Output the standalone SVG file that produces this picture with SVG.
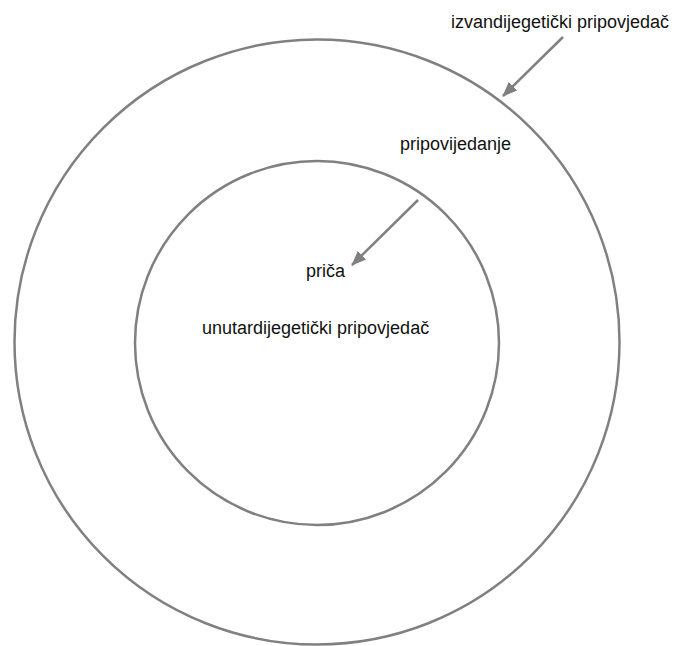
<svg xmlns="http://www.w3.org/2000/svg" width="676" height="646" viewBox="0 0 676 646">
<style>
.ring{fill:none;stroke:#808080;stroke-width:2.5}
.lbl{font-family:"Liberation Sans",Arial,sans-serif;font-size:18px;fill:#111111}
.conn{stroke:#808080;stroke-width:2.5;fill:none}
</style>
<defs>
<marker id="ah" markerUnits="userSpaceOnUse" markerWidth="16" markerHeight="14" refX="14" refY="6" orient="auto" viewBox="0 0 16 12">
<path d="M0,0 L15,6 L0,12 z" fill="#808080"/>
</marker>
</defs>
<rect width="676" height="646" fill="#ffffff"/>
<g id="outer">
<circle class="ring" cx="317" cy="342" r="302.5"/>
</g>
<g id="inner">
<circle class="ring" cx="317" cy="343" r="182"/>
</g>
<g id="labels">
<text class="lbl" x="451" y="28">izvandijegetički pripovjedač</text>
<text class="lbl" x="400" y="150">pripovijedanje</text>
<text class="lbl" x="306" y="277">priča</text>
<text class="lbl" x="202" y="334">unutardijegetički pripovjedač</text>
</g>
<g id="connectors">
<line class="conn" x1="563" y1="37" x2="503" y2="96" marker-end="url(#ah)"/>
<line class="conn" x1="418" y1="200" x2="352" y2="265" marker-end="url(#ah)"/>
</g>
</svg>
